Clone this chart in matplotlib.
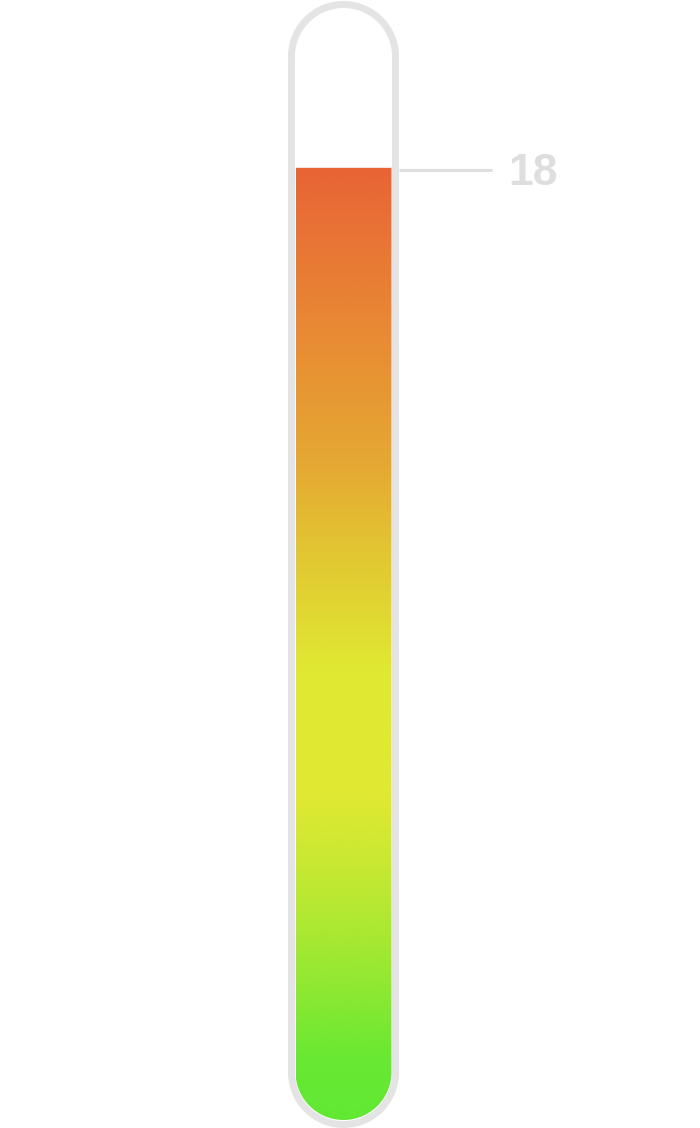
"""
Thermometer-style gauge: a single value shown as a gradient-filled tube.
"""

import numpy as np
import matplotlib
matplotlib.use("Agg")
import matplotlib.pyplot as plt
from matplotlib.path import Path
from matplotlib.patches import PathPatch
from matplotlib.colors import LinearSegmentedColormap
from matplotlib.transforms import IdentityTransform, ScaledTranslation

# Gauge data
VALUE = 18
VALUE_LABEL = "18"
SCALE_MIN = 0
SCALE_MAX = 20

# Colour stops along the scale (value, colour)
STOP_VALUES = [0.0, 1.1, 3.1, 4.8, 6.1, 8.5, 10.6, 12.3, 14.7, 18.0]
STOP_COLORS = ['#62e834', '#68e832', '#a0e832', '#c8e832', '#e0e832',
               '#e0e832', '#e2c832', '#e5aa33', '#e88c34', '#e86436']

TUBE_COLOR = '#e4e4e4'
LABEL_COLOR = '#dedede'

W, H = 700, 1128


def capsule_path(cx, half_w, y_bot, y_top, round_top=True, n=60):
    """Closed path (display px, y up) with round bottom and optionally round top"""
    r = half_w
    verts = []
    # bottom semicircle, left -> right
    t = np.linspace(np.pi, 2 * np.pi, n)
    verts += list(zip(cx + r * np.cos(t), y_bot + r + r * np.sin(t)))
    if round_top:
        t = np.linspace(0, np.pi, n)
        verts += list(zip(cx + r * np.cos(t), y_top - r + r * np.sin(t)))
    else:
        verts += [(cx + r, y_top), (cx - r, y_top)]
    verts.append(verts[0])
    codes = [Path.MOVETO] + [Path.LINETO] * (len(verts) - 2) + [Path.CLOSEPOLY]
    return Path(verts, codes)


def main():
    fig = plt.figure(figsize=(W / 100, H / 100), dpi=100)
    ax = fig.add_axes([0, 0, 1, 1])
    ax.set_xlim(0, W)
    # value axis: 0 sits 8 px above the bottom, 20 sits 62 px below the top
    px_per_unit = (1120 - 168) / VALUE
    ax.set_ylim(SCALE_MIN - 8 / px_per_unit, SCALE_MAX + 62 / px_per_unit)
    ax.axis('off')
    fig.canvas.draw()

    cx = 343.5
    y0_px = ax.transData.transform((cx, SCALE_MIN))[1]
    yv_px = ax.transData.transform((cx, VALUE))[1]

    # Tube outline
    tube = capsule_path(cx, 52, y0_px - 4.5, H - 4.5)
    ax.add_patch(PathPatch(tube, transform=IdentityTransform(), facecolor='white',
                           edgecolor=TUBE_COLOR, linewidth=7 * 0.72, zorder=1))

    # Gradient fill, clipped to the liquid shape
    pos = [(v - SCALE_MIN) / (VALUE - SCALE_MIN) for v in STOP_VALUES]
    cmap = LinearSegmentedColormap.from_list('gauge', list(zip(pos, STOP_COLORS)))
    grad = np.linspace(0, 1, 512).reshape(-1, 1)
    img = ax.imshow(grad, cmap=cmap, aspect='auto', origin='lower',
                    extent=(296, 392, SCALE_MIN, VALUE), zorder=2,
                    interpolation='bilinear')
    liquid = PathPatch(capsule_path(cx, 48, y0_px, yv_px, round_top=False),
                       transform=IdentityTransform(), facecolor='none',
                       edgecolor='none')
    ax.add_patch(liquid)
    img.set_clip_path(liquid)

    # Value marker and label
    shift = ax.transData + ScaledTranslation(0, -2 / 100, fig.dpi_scale_trans)
    ax.plot([399, 492], [VALUE, VALUE], color=LABEL_COLOR, linewidth=2.2,
            solid_capstyle='butt', transform=shift, zorder=3)
    ax.annotate(VALUE_LABEL, xy=(508, VALUE), xytext=(0, -17 * 0.72),
                textcoords='offset points', color=LABEL_COLOR, fontsize=32,
                fontweight='bold', family=['Liberation Sans', 'DejaVu Sans'],
                ha='left', va='baseline', zorder=3)

    fig.savefig('out.png', dpi=100, facecolor='white')
    plt.close(fig)


if __name__ == "__main__":
    main()
